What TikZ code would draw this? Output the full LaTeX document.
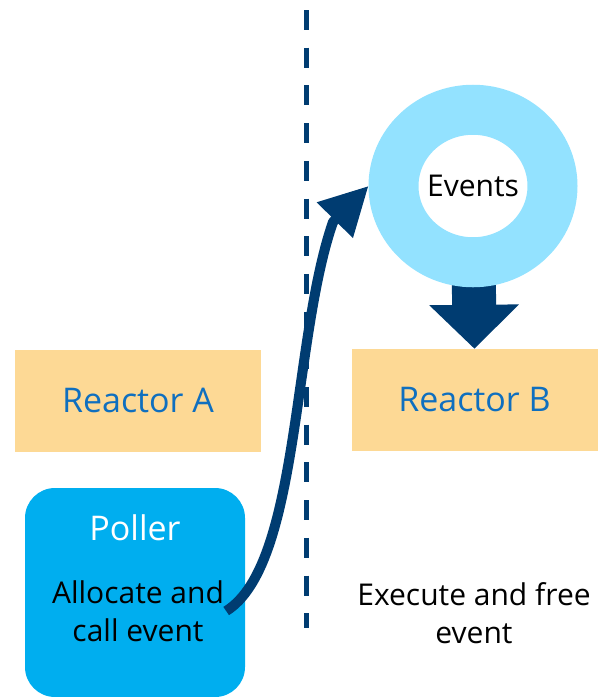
\documentclass[tikz,border=0pt]{standalone}
\usepackage{fontspec}
\setmainfont{Open Sans}
\usetikzlibrary{arrows.meta,shapes.geometric}
\pgfdeclarelayer{background}
\pgfsetlayers{background,main}

\definecolor{reactorfill}{HTML}{FDD995}
\definecolor{reactortext}{HTML}{0F6FBF}
\definecolor{pollerfill}{HTML}{00AEEF}
\definecolor{navy}{HTML}{003C71}
\definecolor{ringblue}{HTML}{93E2FF}

\tikzset{
  reactor/.style={rectangle, fill=reactorfill, text=reactortext,
    minimum width=246pt, minimum height=102pt, inner sep=0pt,
    font=\fontsize{34}{40}\selectfont},
  pollerbox/.style={rectangle, rounded corners=30pt, fill=pollerfill,
    minimum width=220pt, minimum height=209pt, inner sep=0pt},
  bodytext/.style={align=center, inner sep=2pt,
    font=\fontsize{30}{38}\selectfont},
  ring/.style={ellipse, fill=white, draw=ringblue, line width=50pt,
    minimum width=159pt, minimum height=152.5pt, inner sep=0pt,
    outer sep=25pt, font=\fontsize{30}{34}\selectfont},
  divider/.style={navy, line width=5pt, dash pattern=on 20pt off 17.7pt},
  flow/.style={navy, line width=10pt, line join=round,
    -{Triangle[length=48pt,width=48pt]}},
  blockarrow/.style={navy, line width=44pt,
    -{Triangle[length=44pt,width=87pt]}}
}

\begin{document}
\begin{tikzpicture}[x=1pt,y=-1pt]
  \useasboundingbox (0,0) rectangle (598,697);

  % separator between the two reactors
  \coordinate (divtop) at (306,10);
  \coordinate (divbot) at (306,628);
  \draw[divider] (divtop) -- (divbot);

  % reactors
  \node[reactor] (ra) at (138,400.5) {Reactor A};
  \node[reactor] (rb) at (474.5,400) {Reactor B};

  % poller
  \node[pollerbox] (poller) at (135,592.5) {};
  \node[text=white, inner sep=0pt, font=\fontsize{34}{40}\selectfont]
    (pollertitle) at (135,528) {Poller};
  \node[bodytext] (alloc) at (138,611) {Allocate and\\call event};

  % event ring
  \node[ring] (events) at (473,186) {Events};

  % reactor B side text
  \node[bodytext] (exec) at (474,613) {Execute and free\\event};

  % events delivered to reactor B
  \begin{pgfonlayer}{background}
    \draw[blockarrow] (events.center) -- (rb.north);
  \end{pgfonlayer}

  % event passed from the poller to the ring
  \draw[flow] (alloc.east) .. controls (300,565) and (292,340) .. (333,222)
    -- (events.west);
\end{tikzpicture}
\end{document}
